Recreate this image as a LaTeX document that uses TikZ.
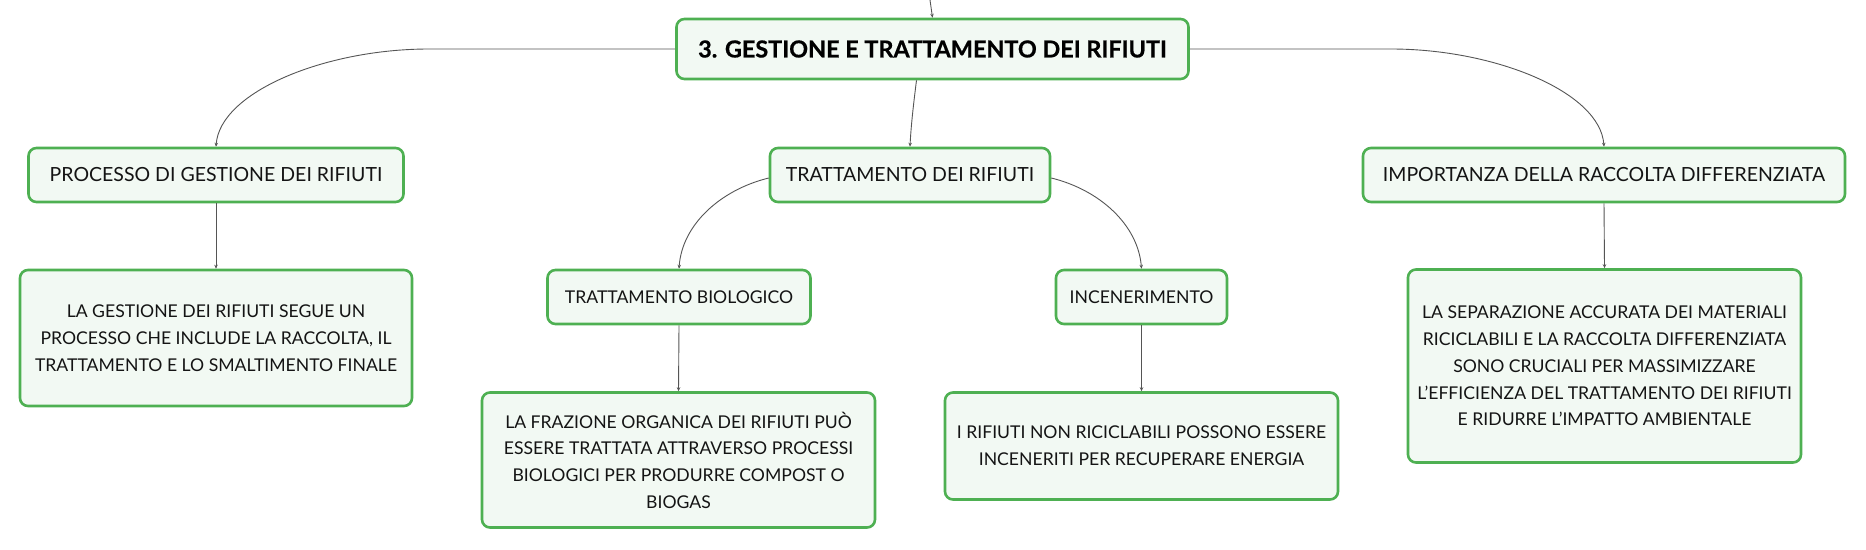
\documentclass[tikz,border=0pt]{standalone}
\usepackage{fontspec}
\setmainfont{Lato}
\usetikzlibrary{arrows.meta,calc}
\definecolor{boxgreen}{RGB}{78,176,82}
\definecolor{boxfill}{RGB}{242,249,243}
\definecolor{linegray}{RGB}{85,85,85}
\definecolor{txt}{RGB}{20,20,20}
\begin{document}
\begin{tikzpicture}[x=1pt,y=-1pt,
  box/.style={draw=boxgreen,line width=2.6pt,fill=boxfill,rounded corners=8pt,
    align=center,text=txt,inner sep=0pt,
    font=\fontsize{19.5pt}{27pt}\selectfont},
  textbox/.style={box,font=\fontsize{17.6pt}{26.7pt}\selectfont},
  titlebox/.style={box,text=black,font=\fontsize{23.4pt}{27pt}\selectfont\bfseries\addfontfeatures{FakeBold=0.6}},
  conn/.style={draw=linegray,line width=0.9pt,-{Stealth[length=4pt,width=3.5pt]}}]
\useasboundingbox (0,0) rectangle (1866,549);
\fill[white] (0,0) rectangle (1866,549);

\node[titlebox,minimum width=512pt,minimum height=60pt] (main) at (932.5,49) {3. GESTIONE E TRATTAMENTO DEI RIFIUTI};
\node[box,minimum width=375pt,minimum height=54pt] (proc) at (216,175) {PROCESSO DI GESTIONE DEI RIFIUTI};
\node[box,minimum width=280pt,minimum height=54pt] (tratt) at (910,175) {TRATTAMENTO DEI RIFIUTI};
\node[box,minimum width=482pt,minimum height=54pt] (imp) at (1604,175) {IMPORTANZA DELLA RACCOLTA DIFFERENZIATA};
\node[textbox,minimum width=392pt,minimum height=136pt] (gest) at (216,338) {LA GESTIONE DEI RIFIUTI SEGUE UN\\PROCESSO CHE INCLUDE LA RACCOLTA, IL\\TRATTAMENTO E LO SMALTIMENTO FINALE};
\node[textbox,minimum width=263pt,minimum height=54pt] (bio) at (679,297) {TRATTAMENTO BIOLOGICO};
\node[textbox,minimum width=171pt,minimum height=54pt] (inc) at (1141.5,297) {INCENERIMENTO};
\node[textbox,minimum width=393pt,minimum height=135pt] (fraz) at (678.5,460) {LA FRAZIONE ORGANICA DEI RIFIUTI PUÒ\\ESSERE TRATTATA ATTRAVERSO PROCESSI\\BIOLOGICI PER PRODURRE COMPOST O\\BIOGAS};
\node[textbox,minimum width=393pt,minimum height=107pt] (rif) at (1141.5,446) {I RIFIUTI NON RICICLABILI POSSONO ESSERE\\INCENERITI PER RECUPERARE ENERGIA};
\node[textbox,minimum width=393pt,minimum height=193pt] (sep) at (1604.5,366) {LA SEPARAZIONE ACCURATA DEI MATERIALI\\RICICLABILI E LA RACCOLTA DIFFERENZIATA\\SONO CRUCIALI PER MASSIMIZZARE\\L'EFFICIENZA DEL TRATTAMENTO DEI RIFIUTI\\E RIDURRE L'IMPATTO AMBIENTALE};

\coordinate (top) at (930,0);
\draw[conn] (top) -- (main.north);
\draw[conn] (main.west) -- (429,49) .. controls (325,49) and (220,92) .. (proc.north);
\draw[conn] (main.east) -- (1391,49) .. controls (1495,49) and (1600,92) .. (imp.north);
\draw[conn] ($(main.south)+(-16,0)$) .. controls (914,100) and (911,125) .. (tratt.north);
\draw[conn] ($(tratt.west)+(0,3)$) .. controls (720,190) and (682,225) .. (bio.north);
\draw[conn] ($(tratt.east)+(0,3)$) .. controls (1100,190) and (1138,225) .. (inc.north);
\draw[conn] (proc.south) -- (gest.north);
\draw[conn] (bio.south) -- (fraz.north);
\draw[conn] (inc.south) -- (rif.north);
\draw[conn] (imp.south) -- (sep.north);
\end{tikzpicture}
\end{document}
